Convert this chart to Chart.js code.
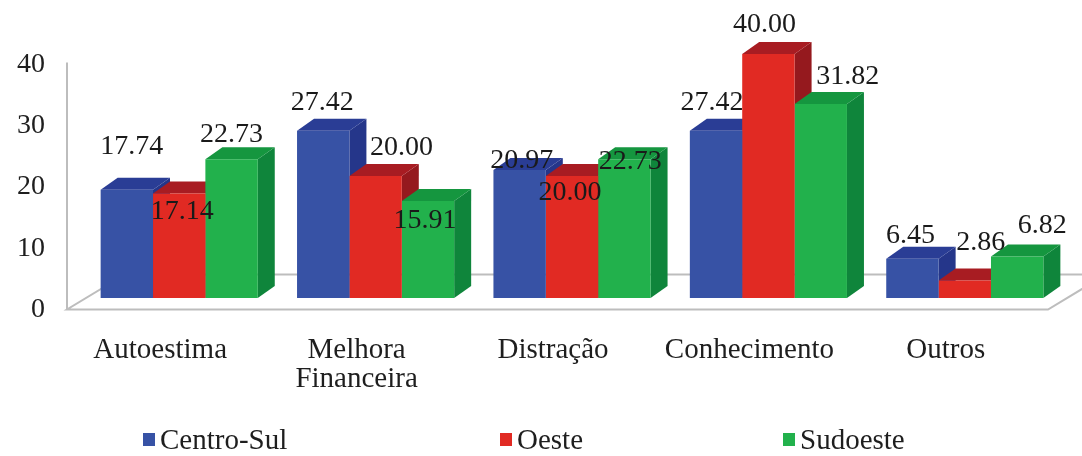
<!DOCTYPE html>
<html>
<head>
<meta charset="utf-8">
<script src="https://cdn.jsdelivr.net/npm/chart.js@4.4.0/dist/chart.umd.min.js"></script>
<style>
  html, body { margin: 0; padding: 0; background: #fff; }
  #wrap { position: relative; width: 1082px; height: 456px; }
  #legend {
    position: absolute; left: 143px; top: 422px; width: 900px; height: 34px;
    display: grid; grid-template-columns: 357px 283px auto;
    font-family: "Liberation Serif", serif; font-size: 29px; color: #1e1e1e;
  }
  #legend div { display: flex; align-items: center; justify-content: flex-start; }
  #legend span.box { display: inline-block; width: 12px; height: 13px; margin-right: 5px; }
</style>
</head>
<body>
<div id="wrap">
  <canvas id="regionChart" width="1082" height="456"></canvas>
  <div id="legend"></div>
</div>
<script>
const categories = ["Autoestima", ["Melhora", "Financeira"], "Distração", "Conhecimento", "Outros"];
const seriesNames = ["Centro-Sul", "Oeste", "Sudoeste"];
const centroSul = [17.74, 27.42, 20.97, 27.42, 6.45];
const oeste = [17.14, 20.00, 20.00, 40.00, 2.86];
const sudoeste = [22.73, 15.91, 22.73, 31.82, 6.82];
const yTicks = [0, 10, 20, 30, 40];

// front / top / side colours for the fake 3D look
const faceColors = [
    { front: '#3752a5', top: '#2a3d95', side: '#25368a' },
    { front: '#e12a23', top: '#a81c22', side: '#95191e' },
    { front: '#22b14c', top: '#15963f', side: '#0f853b' }
];
// label nudges, Excel put some labels inside the bars
const labelNudge = [
    [[-3, -17], [-9, -2], [-6, 17], [-12, -2], [-10, 3]],
    [[-5, 44], [18, -2], [-10, 43], [-12, -3], [8, -12]],
    [[-8, 1], [-11, 46], [-2, 28], [19, -1], [17, -5]]
];
const depthX = 17, depthY = -12;

const fake3d = {
    id: 'fake3d',
    beforeDatasetsDraw(chart) {
        const ctx = chart.ctx;
        const area = chart.chartArea;
        // floor + wall
        const fl = area.left - 14, fr = area.right - 15, fy = area.bottom;
        ctx.save();
        ctx.strokeStyle = '#bdbdbd';
        ctx.lineWidth = 2;
        ctx.fillStyle = '#ffffff';
        ctx.beginPath();
        ctx.moveTo(fl, fy);
        ctx.lineTo(fr, fy);
        ctx.lineTo(fr + 58, fy - 35);
        ctx.lineTo(fl + 58, fy - 35);
        ctx.closePath();
        ctx.fill();
        ctx.stroke();
        ctx.beginPath();
        ctx.moveTo(fl, chart.scales.y2.getPixelForValue(40) - 2);
        ctx.lineTo(fl, fy);
        ctx.stroke();

        chart.data.datasets.forEach((ds, di) => {
            chart.getDatasetMeta(di).data.forEach(bar => {
                const p = bar.getProps(['x', 'y', 'base', 'width'], true);
                const l = p.x - p.width / 2, r = p.x + p.width / 2;
                ctx.fillStyle = faceColors[di].side;
                ctx.beginPath();
                ctx.moveTo(r, p.y);
                ctx.lineTo(r + depthX, p.y + depthY);
                ctx.lineTo(r + depthX, p.base + depthY);
                ctx.lineTo(r, p.base);
                ctx.closePath();
                ctx.fill();
                ctx.fillStyle = faceColors[di].top;
                ctx.beginPath();
                ctx.moveTo(l, p.y);
                ctx.lineTo(r, p.y);
                ctx.lineTo(r + depthX, p.y + depthY);
                ctx.lineTo(l + depthX, p.y + depthY);
                ctx.closePath();
                ctx.fill();
            });
        });
        ctx.restore();
    },
    afterDatasetsDraw(chart) {
        const ctx = chart.ctx;
        ctx.save();
        ctx.font = '28px "Liberation Serif"';
        ctx.fillStyle = '#1a1a1a';
        ctx.textAlign = 'center';
        ctx.textBaseline = 'middle';
        chart.data.datasets.forEach((ds, di) => {
            chart.getDatasetMeta(di).data.forEach((bar, i) => {
                const p = bar.getProps(['x', 'y'], true);
                const n = labelNudge[di][i];
                ctx.fillText(ds.data[i].toFixed(2), p.x + 8 + n[0], p.y - 26 + n[1]);
            });
        });
        ctx.restore();
    }
};

const seriesData = [centroSul, oeste, sudoeste];
const ctx = document.getElementById('regionChart').getContext('2d');
const chart = new Chart(ctx, {
    type: 'bar',
    data: {
        labels: categories,
        datasets: seriesNames.map((name, i) => ({
            label: name,
            data: seriesData[i],
            backgroundColor: faceColors[i].front,
            borderWidth: 0,
            categoryPercentage: 0.8,
            barPercentage: 1.0
        }))
    },
    options: {
        responsive: false,
        animation: false,
        layout: {
            padding: { top: 54, right: 19, left: 0, bottom: 0 }
        },
        plugins: {
            legend: { display: false },
            tooltip: { enabled: false }
        },
        scales: {
            x: {
                grid: { display: false },
                border: { display: false },
                ticks: {
                    color: '#1e1e1e',
                    font: { family: 'Liberation Serif', size: 29, lineHeight: 1.0 },
                    padding: 18,
                    labelOffset: -19,
                    maxRotation: 0,
                    autoSkip: false
                },
                afterFit(scale) { scale.height = 146.5; }
            },
            y: {
                display: false,
                min: -1.885,
                max: 40
            },
            y2: {
                position: 'left',
                min: 0,
                max: 41.71,
                grid: { display: false, drawTicks: false },
                border: { display: false },
                afterBuildTicks(scale) { scale.ticks = yTicks.map(v => ({ value: v })); },
                ticks: {
                    color: '#1e1e1e',
                    font: { family: 'Liberation Serif', size: 28 },
                    padding: 36
                },
                afterFit(scale) { scale.width = 81; }
            }
        }
    },
    plugins: [fake3d]
});

const legend = document.getElementById('legend');
seriesNames.forEach((name, i) => {
    const item = document.createElement('div');
    item.innerHTML = '<span class="box" style="background:' + faceColors[i].front + '"></span>' + name;
    legend.appendChild(item);
});
</script>
</body>
</html>
